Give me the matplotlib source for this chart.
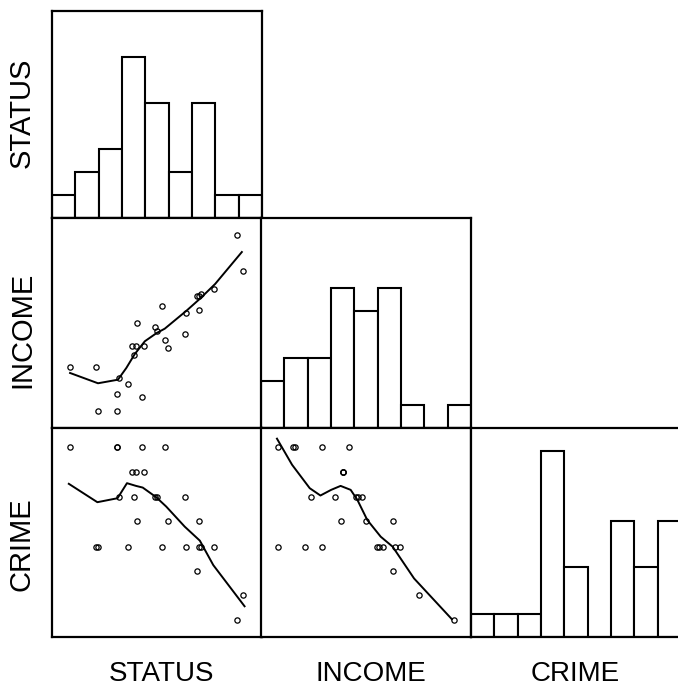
#!/usr/bin/env python
'''
Scatterplot matrix (lower half) of STATUS, INCOME and CRIME,
histograms on the diagonal and a smooth line in every scatter panel
'''

import matplotlib
matplotlib.use('Agg')
import matplotlib.pyplot as plt
import numpy as np

plt.rcParams['font.family'] = ['Liberation Sans', 'DejaVu Sans']

names = ['STATUS', 'INCOME', 'CRIME']

# 27 cases, values on a 0-100 scale
status = [8.5, 31, 31, 43, 54, 38, 40, 44, 32, 39, 49, 50, 63.5, 40.5, 55, 70,
          21, 22, 36, 52.5, 64, 71, 77, 70, 69, 91, 88]
income = [29, 8, 16, 15, 42, 39, 39, 39, 24, 35, 48, 46, 45, 50, 38, 63,
          29, 8, 21, 58, 55, 64, 66, 56, 63, 75, 92]
crime = [90.7, 90.7, 90.7, 90.7, 90.7, 78.8, 78.8, 78.8, 67, 67, 67, 67, 67,
         55.3, 55.3, 55.3, 43.3, 43.3, 43.3, 43.3, 43.3, 43.3, 43.3, 43.3,
         31.8, 20.3, 8.3]

# smoothed lines (vertices)
fit_inc_sta_x = [8.6, 21.9, 31.4, 35.4, 39.4, 44.2, 49.8, 53.7, 64.1, 70.5, 77.7, 90.4]
fit_inc_sta_y = [26.2, 21.3, 23.0, 28.6, 35.2, 41.3, 45.2, 47.3, 55.9, 61.6, 68.6, 83.8]
fit_cri_sta_x = [8.0, 21.6, 31.2, 35.7, 40.0, 43.2, 49.6, 54.4, 63.2, 70.4, 76.8, 91.7]
fit_cri_sta_y = [73.3, 64.5, 66.4, 73.6, 72.3, 71.5, 66.9, 62.4, 52.8, 46.1, 34.4, 14.7]
fit_cri_inc_x = [7.6, 14.8, 23.2, 28.3, 33.4, 37.9, 42.7, 45.9, 50.6, 57.0, 62.7, 72.9, 90.9]
fit_cri_inc_y = [94.9, 82.4, 71.2, 67.7, 70.4, 72.3, 70.4, 65.6, 56.0, 48.0, 43.2, 28.0, 8.5]

data = [status, income, crime]
fits = {(1, 0): (fit_inc_sta_x, fit_inc_sta_y),
        (2, 0): (fit_cri_sta_x, fit_cri_sta_y),
        (2, 1): (fit_cri_inc_x, fit_cri_inc_y)}

W, H = 678.0, 690.0
fig = plt.figure(figsize=(W / 100, H / 100), dpi=100)
fig.patch.set_facecolor('white')

# panel layout in pixels
col_x = [52, 261, 471]
row_y = [11, 218, 428]
row_h = [207, 210, 209]
col_w = 210


def panel(r, c):
    ax = fig.add_axes([col_x[c] / W, 1 - (row_y[r] + row_h[r]) / H,
                       col_w / W, row_h[r] / H])
    ax.set_xticks([])
    ax.set_yticks([])
    for sp in ax.spines.values():
        sp.set_linewidth(1.6)
    ax.set_xlim(0, 100)
    return ax


bins = np.linspace(0, 100, 10)
for r in range(3):
    for c in range(r + 1):
        ax = panel(r, c)
        if r == c:
            ax.hist(data[r], bins=bins, facecolor='white', edgecolor='black',
                    linewidth=1.5)
            ax.set_ylim(0, 9)
        else:
            ax.plot(data[c], data[r], 'o', mfc='none', mec='black', ms=3.8, mew=0.9)
            fx, fy = fits[(r, c)]
            ax.plot(fx, fy, '-', color='black', lw=1.4)
            ax.set_ylim(0, 100)

# variable names
left_y = [113, 330, 544]
for name, y in zip(names, left_y):
    fig.text(22 / W, 1 - y / H, name, rotation=90, ha='center', va='center', fontsize=21)
bottom_x = [162, 371, 575]
for name, x in zip(names, bottom_x):
    fig.text(x / W, 1 - 674 / H, name, ha='center', va='center', fontsize=20)

fig.savefig('out.png', dpi=100)
